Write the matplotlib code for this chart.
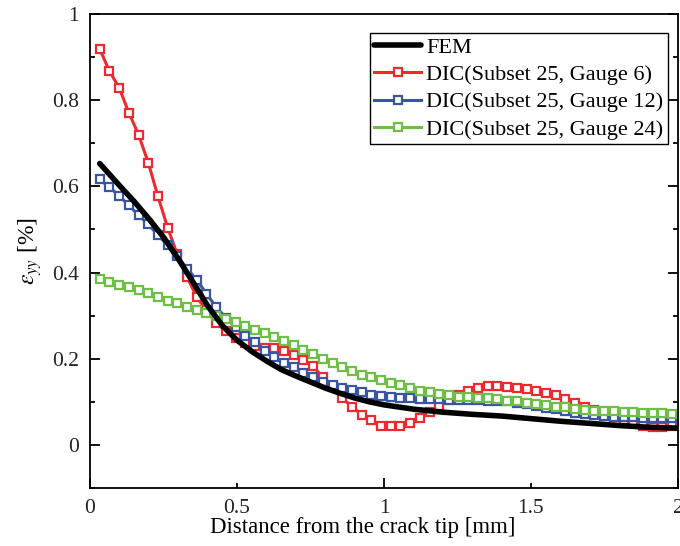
import numpy as np
import matplotlib
matplotlib.use('Agg')
import matplotlib.pyplot as plt
from matplotlib.ticker import MultipleLocator, FixedFormatter, FixedLocator

plt.rcParams['font.family'] = ['Liberation Serif', 'DejaVu Serif']
plt.rcParams['mathtext.fontset'] = 'stix'

# distance from the crack tip [mm] for the DIC points
dist = [0.033, 0.066, 0.099, 0.132, 0.165, 0.198, 0.231, 0.264, 0.297, 0.330,
        0.363, 0.396, 0.429, 0.462, 0.495, 0.528, 0.561, 0.594, 0.627, 0.660,
        0.693, 0.726, 0.759, 0.792, 0.825, 0.858, 0.891, 0.924, 0.957, 0.990,
        1.023, 1.056, 1.089, 1.122, 1.155, 1.188, 1.221, 1.254, 1.287, 1.320,
        1.353, 1.386, 1.419, 1.452, 1.485, 1.518, 1.551, 1.584, 1.617, 1.650,
        1.683, 1.716, 1.749, 1.782, 1.815, 1.848, 1.881, 1.914, 1.947, 1.980]

gauge6 = [0.919, 0.867, 0.829, 0.771, 0.720, 0.655, 0.577, 0.504, 0.442, 0.390,
          0.343, 0.312, 0.283, 0.264, 0.248, 0.236, 0.229, 0.226, 0.225, 0.219,
          0.208, 0.198, 0.182, 0.157, 0.136, 0.108, 0.089, 0.070, 0.057, 0.045,
          0.043, 0.045, 0.050, 0.062, 0.076, 0.091, 0.105, 0.115, 0.126, 0.132,
          0.136, 0.137, 0.134, 0.132, 0.129, 0.126, 0.120, 0.115, 0.106, 0.098,
          0.089, 0.080, 0.072, 0.064, 0.058, 0.052, 0.044, 0.041, 0.041, 0.044]

gauge12 = [0.616, 0.598, 0.578, 0.556, 0.533, 0.512, 0.487, 0.463, 0.438, 0.409,
           0.383, 0.351, 0.320, 0.295, 0.273, 0.253, 0.238, 0.218, 0.204, 0.191,
           0.180, 0.168, 0.157, 0.147, 0.140, 0.132, 0.127, 0.122, 0.117, 0.113,
           0.111, 0.109, 0.108, 0.107, 0.106, 0.106, 0.105, 0.105, 0.105, 0.105,
           0.103, 0.102, 0.101, 0.098, 0.095, 0.091, 0.086, 0.083, 0.079, 0.075,
           0.072, 0.069, 0.066, 0.064, 0.064, 0.064, 0.063, 0.063, 0.063, 0.063]

gauge24 = [0.384, 0.378, 0.372, 0.367, 0.360, 0.352, 0.343, 0.335, 0.329, 0.320,
           0.314, 0.306, 0.298, 0.292, 0.285, 0.276, 0.267, 0.260, 0.251, 0.242,
           0.231, 0.221, 0.211, 0.200, 0.190, 0.181, 0.172, 0.163, 0.157, 0.150,
           0.143, 0.138, 0.132, 0.126, 0.123, 0.119, 0.116, 0.112, 0.111, 0.110,
           0.108, 0.106, 0.103, 0.101, 0.097, 0.095, 0.092, 0.089, 0.088, 0.084,
           0.081, 0.079, 0.078, 0.078, 0.077, 0.076, 0.075, 0.074, 0.074, 0.072]

# FEM curve
fem_x = [0.033, 0.1, 0.15, 0.2, 0.25, 0.3, 0.35, 0.4, 0.45, 0.5, 0.55, 0.6,
         0.65, 0.7, 0.75, 0.8, 0.85, 0.9, 0.95, 1.0, 1.1, 1.2, 1.3, 1.4, 1.5,
         1.6, 1.7, 1.8, 1.9, 2.0]
fem_y = [0.653, 0.602, 0.565, 0.525, 0.482, 0.432, 0.378, 0.323, 0.277, 0.243,
         0.217, 0.195, 0.175, 0.160, 0.146, 0.132, 0.120, 0.109, 0.100, 0.093,
         0.083, 0.076, 0.071, 0.067, 0.061, 0.055, 0.050, 0.045, 0.041, 0.039]

fig = plt.figure(figsize=(6.8, 5.46), dpi=100)
ax = fig.add_axes([0.1324, 0.1062, 0.8646, 0.8682])

ax.plot(fem_x, fem_y, color='black', lw=4, label='FEM', zorder=5,
        solid_joinstyle='round', solid_capstyle='round')
mk = dict(marker='s', markersize=5.5, markerfacecolor='white', markeredgewidth=1.6, lw=2.2)
ax.plot(dist, gauge6, color='#EE2A2E', label='DIC(Subset 25, Gauge 6)', **mk)
ax.plot(dist, gauge12, color='#3B55A5', label='DIC(Subset 25, Gauge 12)', **mk)
ax.plot(dist, gauge24, color='#6DBF47', label='DIC(Subset 25, Gauge 24)', **mk)

ax.set_xlim(0, 2)
ax.set_ylim(-0.1, 1.0)

ax.xaxis.set_major_locator(FixedLocator([0, 1, 2]))
ax.xaxis.set_minor_locator(FixedLocator([0.5, 1.5]))
ax.xaxis.set_major_formatter(FixedFormatter(['0', '1', '2']))
ax.xaxis.set_minor_formatter(FixedFormatter(['0.5', '1.5']))
ax.yaxis.set_major_locator(FixedLocator([0, 0.2, 0.4, 0.6, 0.8, 1.0]))
ax.yaxis.set_major_formatter(FixedFormatter(['0', '0.2', '0.4', '0.6', '0.8', '1']))
ax.yaxis.set_minor_locator(MultipleLocator(0.1))

ax.tick_params(which='both', direction='in', labelsize=15.5, width=1.3, pad=8,
               labelcolor='#222222')
ax.tick_params(which='major', length=7)
ax.tick_params(which='minor', length=3.6)
ax.tick_params(axis='y', which='both', right=True)
for s in ax.spines.values():
    s.set_linewidth(1.3)

ax.set_xlabel('Distance from the crack tip [mm]', fontsize=16.5)
ax.xaxis.set_label_coords(0.464, -0.062)
ax.set_ylabel(r'$\varepsilon_{yy}$ [%]', fontsize=17)
ax.yaxis.set_label_coords(-0.078, 0.5)

leg = ax.legend(loc='upper right', bbox_to_anchor=(0.983, 0.96), borderaxespad=0,
                fontsize=16, numpoints=1, fancybox=False, framealpha=1,
                edgecolor='black', handlelength=2.1, handletextpad=0.25,
                labelspacing=0.3, borderpad=0.2)
leg.get_frame().set_linewidth(1.0)

fig.savefig('out.png', dpi=100)
